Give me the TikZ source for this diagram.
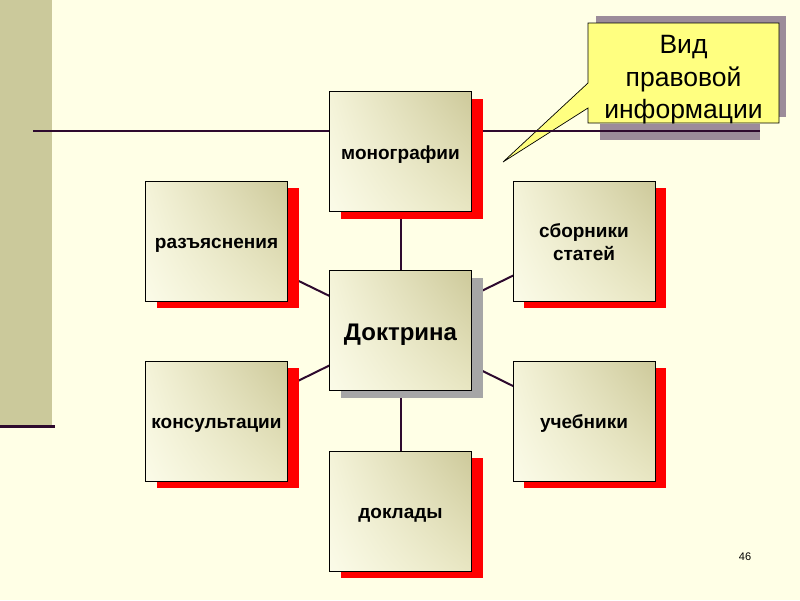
\documentclass[tikz,border=0pt]{standalone}
\usepackage{fontspec}
\setmainfont{Liberation Sans}
\usetikzlibrary{shadows,shadings}
\definecolor{cream}{HTML}{FFFFE6}
\definecolor{barcol}{HTML}{CBC99B}
\definecolor{linecol}{HTML}{2E0A2E}
\definecolor{callyellow}{HTML}{FFFF80}
\definecolor{callshadow}{HTML}{9C8C9A}
\definecolor{khaki}{HTML}{CDC99A}
\definecolor{paleA}{HTML}{F4F3D8}
\definecolor{paleB}{HTML}{FBFBE8}
\definecolor{paleC}{HTML}{E8E6C2}
\definecolor{shadgray}{HTML}{A6A6A6}
\pgfdeclarelayer{bg}
\pgfsetlayers{bg,main}
\tikzset{
  card/.style={draw=black, line width=0.8pt, minimum width=141pt, minimum height=120pt,
    inner sep=2pt, align=center, text width=138pt,
    upper left=paleA, upper right=khaki, lower left=paleB, lower right=paleC,
    font=\fontsize{19}{23}\selectfont\bfseries, text height=20.25pt, text depth=4.75pt},
  redshadow/.style={drop shadow={shadow xshift=11pt, shadow yshift=-7pt, fill=red, opacity=1}},
  grayshadow/.style={drop shadow={shadow xshift=11pt, shadow yshift=-7pt, fill=shadgray, opacity=1}},
  link/.style={draw=linecol, line width=2pt},
}
\begin{document}
\begin{tikzpicture}[x=1pt,y=-1pt]
\useasboundingbox (0,0) rectangle (800,600);
\begin{pgfonlayer}{bg}
\fill[cream] (0,0) rectangle (800,600);
\fill[barcol] (0,0) rectangle (52,425);
\fill[linecol] (0,424.5) rectangle (55,428);
% callout shadows
\fill[callshadow] (596,16) rectangle (786,117);
\fill[callshadow] (600,124) rectangle (760,140);
% callout
\draw[fill=callyellow, line width=0.7pt, line join=miter]
  (588,23) -- (779,23) -- (779,123) -- (588,123) -- (588,108) -- (503,162) -- (588,83) -- cycle;
\draw[link, line width=2.4pt] (33,131) -- (760,131);
\end{pgfonlayer}
\node[align=center, font=\fontsize{26.5}{32.5}\selectfont] (callout) at (683.5,80) {Вид\\правовой\\информации};

\node[card, redshadow] (m) at (400.5,151.5) {монографии};
\node[card, redshadow] (r) at (216.5,241) {разъяснения};
\node[card, redshadow, text depth=27.75pt] (s) at (584,241) {сборники\\статей};
\node[card, grayshadow, font=\fontsize{24}{28}\selectfont\bfseries, text height=26pt, text depth=6pt] (d) at (400.5,330.5) {Доктрина};
\node[card, redshadow] (k) at (216.5,421) {консультации};
\node[card, redshadow] (u) at (584,421) {учебники};
\node[card, redshadow] (dk) at (400.5,511) {доклады};

\begin{pgfonlayer}{bg}
\foreach \t in {m,r,s,k,u,dk} { \draw[link] (d.center) -- (\t.center); }
\end{pgfonlayer}

\node[font=\fontsize{11}{13}\selectfont] (pg) at (745,557) {46};
\end{tikzpicture}
\end{document}
